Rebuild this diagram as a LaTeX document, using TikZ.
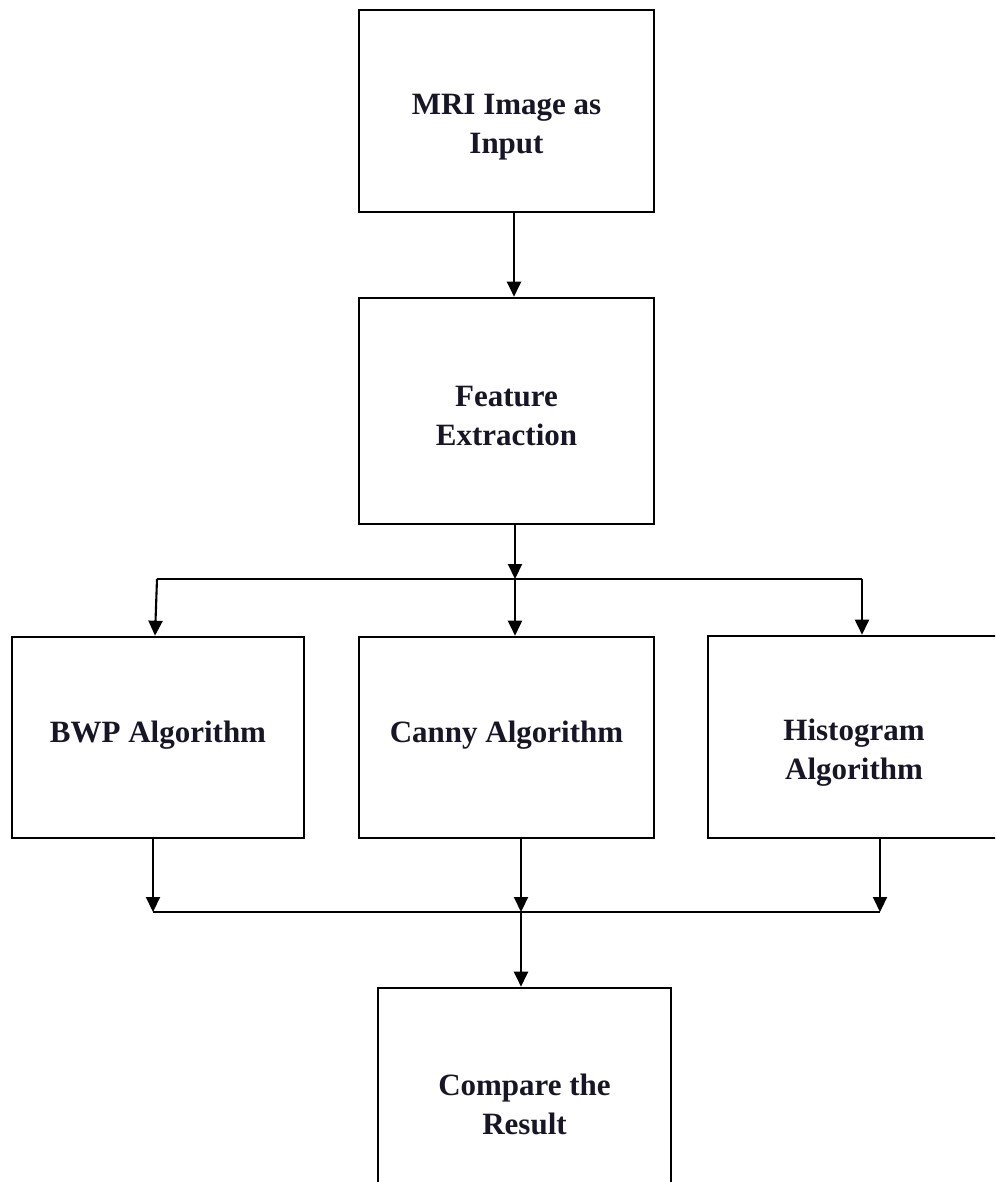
\documentclass[tikz,border=0pt]{standalone}
\usepackage{fontspec}
\setmainfont{Liberation Serif}
\usetikzlibrary{arrows.meta}
\definecolor{txtc}{RGB}{22,22,38}
\tikzset{
  box/.style={draw=black, line width=2.6pt, fill=none, inner sep=0pt},
  lbl/.style={text=txtc, font=\fontsize{31}{39}\selectfont\bfseries, align=center, inner sep=0pt},
  conn/.style={draw=black, line width=2.1pt},
  arr/.style={conn, -{Triangle[width=14pt,length=15pt]}}
}
\begin{document}
\begin{tikzpicture}[x=1pt,y=-1pt]
\useasboundingbox (0,0) rectangle (995,1182);
\clip (0,0) rectangle (995,1182);
% boxes
\node[box, minimum width=295pt, minimum height=202pt] (mri) at (506.5,111) {};
\node[box, minimum width=295pt, minimum height=226pt] (fe) at (506.5,411) {};
\node[box, minimum width=292pt, minimum height=201pt] (bwp) at (158,737.5) {};
\node[box, minimum width=295pt, minimum height=201pt] (canny) at (506.5,737.5) {};
\node[box, minimum width=292pt, minimum height=202pt] (hist) at (854,737) {};
\node[box, minimum width=293pt, minimum height=230pt] (cmp) at (524.5,1103) {};
% texts
\node[lbl] (mriT) at (506.5,127) {MRI Image as\\Input};
\node[lbl] (feT) at (506.5,416) {Feature\\Extraction};
\node[lbl] (bwpT) at (158,735) {BWP Algorithm};
\node[lbl] (cannyT) at (506.5,735) {Canny Algorithm};
\node[lbl] (histT) at (854,753) {Histogram\\Algorithm};
\node[lbl] (cmpT) at (524.5,1104) {Compare the\\Result};
% junction coordinates
\coordinate (j1) at (515,579);
\coordinate (j1l) at (157,579);
\coordinate (j1r) at (862,579);
\coordinate (j2) at (521,912);
\coordinate (j2l) at (153,912);
\coordinate (j2r) at (880,912);
% connectors
\draw[arr] (mri.south -| 514,0) -- (fe.north -| 514,0);
\draw[arr] (fe.south -| j1) -- (j1);
\draw[conn] (j1l) -- (j1r);
\draw[arr] (j1l) -- (bwp.north -| 155,0);
\draw[arr] (j1) -- (canny.north -| j1);
\draw[arr] (j1r) -- (hist.north -| j1r);
\draw[arr] (bwp.south -| j2l) -- (j2l);
\draw[arr] (canny.south -| j2) -- (j2);
\draw[arr] (hist.south -| j2r) -- (j2r);
\draw[conn] (j2l) -- (j2r);
\draw[arr] (j2) -- (cmp.north -| j2);
\end{tikzpicture}
\end{document}
